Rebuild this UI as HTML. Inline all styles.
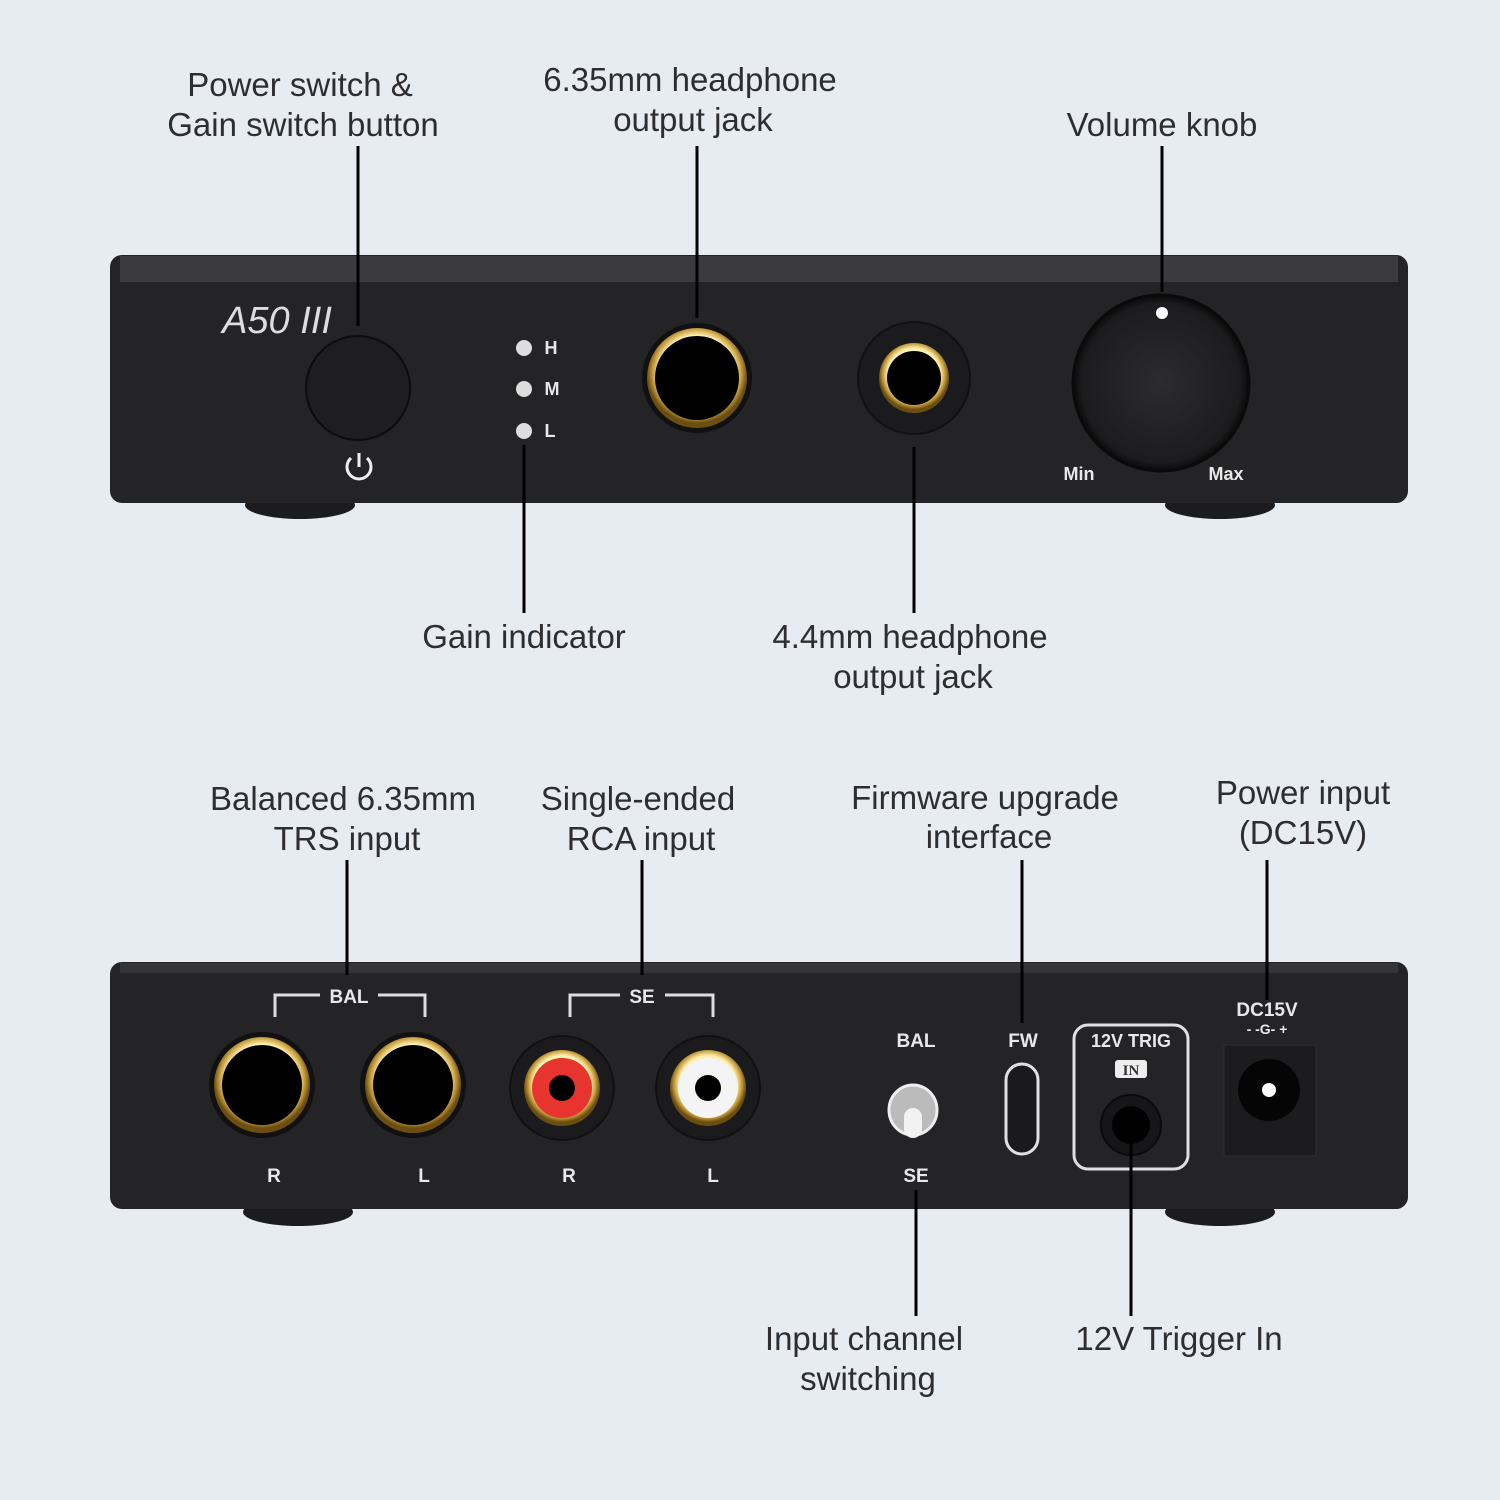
<!DOCTYPE html>
<html><head><style>
html,body{margin:0;padding:0;background:#e7ebf2;}
svg{display:block}
.t{font-family:"Liberation Sans","DejaVu Sans",sans-serif;font-size:33px;fill:#2e2e30;text-anchor:middle}
.w{font-family:"Liberation Sans","DejaVu Sans",sans-serif;font-weight:bold;fill:#e8e8e8;text-anchor:middle}
</style></head><body>
<svg width="1500" height="1500" viewBox="0 0 1500 1500" xmlns="http://www.w3.org/2000/svg">
<defs>
<radialGradient id="gold" cx="50%" cy="45%" r="50%">
<stop offset="75%" stop-color="#fff1b0"/><stop offset="88%" stop-color="#c9a040"/><stop offset="100%" stop-color="#6b4e10"/>
</radialGradient>
<radialGradient id="knob" cx="50%" cy="50%" r="50%">
<stop offset="0%" stop-color="#2c2c2e"/><stop offset="90%" stop-color="#1c1c1e"/><stop offset="100%" stop-color="#0a0a0a"/>
</radialGradient>
</defs>
<rect width="1500" height="1500" fill="#e7ebf2"/>

<!-- FRONT -->
<ellipse cx="300" cy="505" rx="55" ry="14" fill="#1c1c1e"/>
<ellipse cx="1220" cy="505" rx="55" ry="14" fill="#1c1c1e"/>
<rect x="110" y="255" width="1298" height="248" rx="12" fill="#242426"/>
<rect x="120" y="256" width="1278" height="26" fill="#3b3b3d"/>
<text x="277" y="333" style="font-family:'Liberation Sans',sans-serif;font-style:italic;font-size:38px;fill:#ddd" text-anchor="middle">A50 III</text>
<circle cx="358" cy="388" r="52" fill="#1e1e20" stroke="#0c0c0c" stroke-width="2"/>
<path d="M351 458 A12 12 0 1 0 367 458" fill="none" stroke="#eee" stroke-width="3"/>
<line x1="359" y1="453" x2="359" y2="467" stroke="#eee" stroke-width="3"/>
<circle cx="524" cy="348" r="8" fill="#ddd"/><circle cx="524" cy="389" r="8" fill="#ddd"/><circle cx="524" cy="431" r="8" fill="#ddd"/>
<text class="w" x="551" y="354" font-size="18">H</text><text class="w" x="552" y="395" font-size="18">M</text><text class="w" x="550" y="437" font-size="18">L</text>
<circle cx="697" cy="378" r="55" fill="#111"/>
<circle cx="697" cy="378" r="50" fill="url(#gold)"/>
<circle cx="697" cy="378" r="42" fill="#000"/>
<circle cx="914" cy="378" r="56" fill="#1b1b1d" stroke="#111" stroke-width="2"/>
<circle cx="914" cy="378" r="35" fill="url(#gold)"/>
<circle cx="914" cy="378" r="27" fill="#000"/>
<circle cx="1161" cy="383" r="88" fill="url(#knob)" stroke="#0a0a0a" stroke-width="3"/>
<circle cx="1162" cy="313" r="6" fill="#fff"/>
<text class="w" x="1079" y="480" font-size="18">Min</text><text class="w" x="1226" y="480" font-size="18">Max</text>

<!-- REAR -->
<ellipse cx="298" cy="1212" rx="55" ry="14" fill="#1c1c1e"/>
<ellipse cx="1220" cy="1212" rx="55" ry="14" fill="#1c1c1e"/>
<rect x="110" y="962" width="1298" height="247" rx="12" fill="#242426"/>
<rect x="120" y="963" width="1278" height="10" fill="#353537"/>
<path d="M275 1017 V995 H320 M378 995 H425 V1017" fill="none" stroke="#ddd" stroke-width="3"/>
<text class="w" x="349" y="1003" font-size="19">BAL</text>
<path d="M570 1017 V995 H620 M665 995 H713 V1017" fill="none" stroke="#ddd" stroke-width="3"/>
<text class="w" x="642" y="1003" font-size="19">SE</text>
<circle cx="262" cy="1085" r="53" fill="#111"/><circle cx="262" cy="1085" r="48" fill="url(#gold)"/><circle cx="262" cy="1085" r="40" fill="#000"/>
<circle cx="413" cy="1085" r="53" fill="#111"/><circle cx="413" cy="1085" r="48" fill="url(#gold)"/><circle cx="413" cy="1085" r="40" fill="#000"/>
<circle cx="562" cy="1088" r="52" fill="#1b1b1d" stroke="#111" stroke-width="2"/><circle cx="562" cy="1088" r="38" fill="url(#gold)"/><circle cx="562" cy="1088" r="30" fill="#e8342f"/><circle cx="562" cy="1088" r="13" fill="#000"/>
<circle cx="708" cy="1088" r="52" fill="#1b1b1d" stroke="#111" stroke-width="2"/><circle cx="708" cy="1088" r="38" fill="url(#gold)"/><circle cx="708" cy="1088" r="30" fill="#f4f4f4"/><circle cx="708" cy="1088" r="13" fill="#000"/>
<text class="w" x="274" y="1182" font-size="19">R</text><text class="w" x="424" y="1182" font-size="19">L</text>
<text class="w" x="569" y="1182" font-size="19">R</text><text class="w" x="713" y="1182" font-size="19">L</text>
<text class="w" x="916" y="1047" font-size="19">BAL</text><text class="w" x="916" y="1182" font-size="19">SE</text>
<ellipse cx="913" cy="1110" rx="24" ry="25" fill="#bbb" stroke="#eee" stroke-width="3"/>
<rect x="904" y="1108" width="18" height="30" rx="9" fill="#f2f2f2"/>
<text class="w" x="1023" y="1047" font-size="19">FW</text>
<rect x="1006" y="1064" width="32" height="90" rx="16" fill="#1a1a1c" stroke="#e0e0e0" stroke-width="3"/>
<rect x="1074" y="1025" width="114" height="144" rx="14" fill="none" stroke="#e0e0e0" stroke-width="3"/>
<text class="w" x="1131" y="1047" font-size="18">12V TRIG</text>
<rect x="1115" y="1060" width="32" height="18" rx="3" fill="#eee"/>
<text x="1131" y="1075" style="font-family:'Liberation Serif',serif;font-size:15px;font-weight:bold;fill:#333" text-anchor="middle">IN</text>
<circle cx="1131" cy="1125" r="30" fill="#161618" stroke="#0a0a0a" stroke-width="2"/><circle cx="1131" cy="1125" r="19" fill="#000"/>
<text class="w" x="1267" y="1016" font-size="19">DC15V</text>
<text class="w" x="1267" y="1034" font-size="14">- -G- +</text>
<rect x="1224" y="1045" width="92" height="111" fill="#1c1c1e" stroke="#2e2e30"/>
<circle cx="1269" cy="1090" r="31" fill="#050505"/><circle cx="1269" cy="1090" r="7" fill="#fff"/>

<!-- leader lines -->
<g stroke="#000" stroke-width="3">
<line x1="358" y1="146" x2="358" y2="326"/>
<line x1="697" y1="146" x2="697" y2="318"/>
<line x1="1162" y1="146" x2="1162" y2="292"/>
<line x1="524" y1="445" x2="524" y2="613"/>
<line x1="914" y1="447" x2="914" y2="613"/>
<line x1="347" y1="860" x2="347" y2="975"/>
<line x1="642" y1="860" x2="642" y2="975"/>
<line x1="1022" y1="860" x2="1022" y2="1023"/>
<line x1="1267" y1="860" x2="1267" y2="1000"/>
<line x1="916" y1="1190" x2="916" y2="1316"/>
<line x1="1131" y1="1128" x2="1131" y2="1316"/>
</g>

<!-- labels -->
<text class="t" x="300" y="96">Power switch &amp;</text>
<text class="t" x="303" y="136">Gain switch button</text>
<text class="t" x="690" y="91">6.35mm headphone</text>
<text class="t" x="693" y="131">output jack</text>
<text class="t" x="1162" y="136">Volume knob</text>
<text class="t" x="524" y="648">Gain indicator</text>
<text class="t" x="910" y="648">4.4mm headphone</text>
<text class="t" x="913" y="688">output jack</text>
<text class="t" x="343" y="810">Balanced 6.35mm</text>
<text class="t" x="347" y="850">TRS input</text>
<text class="t" x="638" y="810">Single-ended</text>
<text class="t" x="641" y="850">RCA input</text>
<text class="t" x="985" y="809">Firmware upgrade</text>
<text class="t" x="989" y="848">interface</text>
<text class="t" x="1303" y="804">Power input</text>
<text class="t" x="1303" y="844">(DC15V)</text>
<text class="t" x="864" y="1350">Input channel</text>
<text class="t" x="868" y="1390">switching</text>
<text class="t" x="1179" y="1350">12V Trigger In</text>
</svg>
</body></html>
